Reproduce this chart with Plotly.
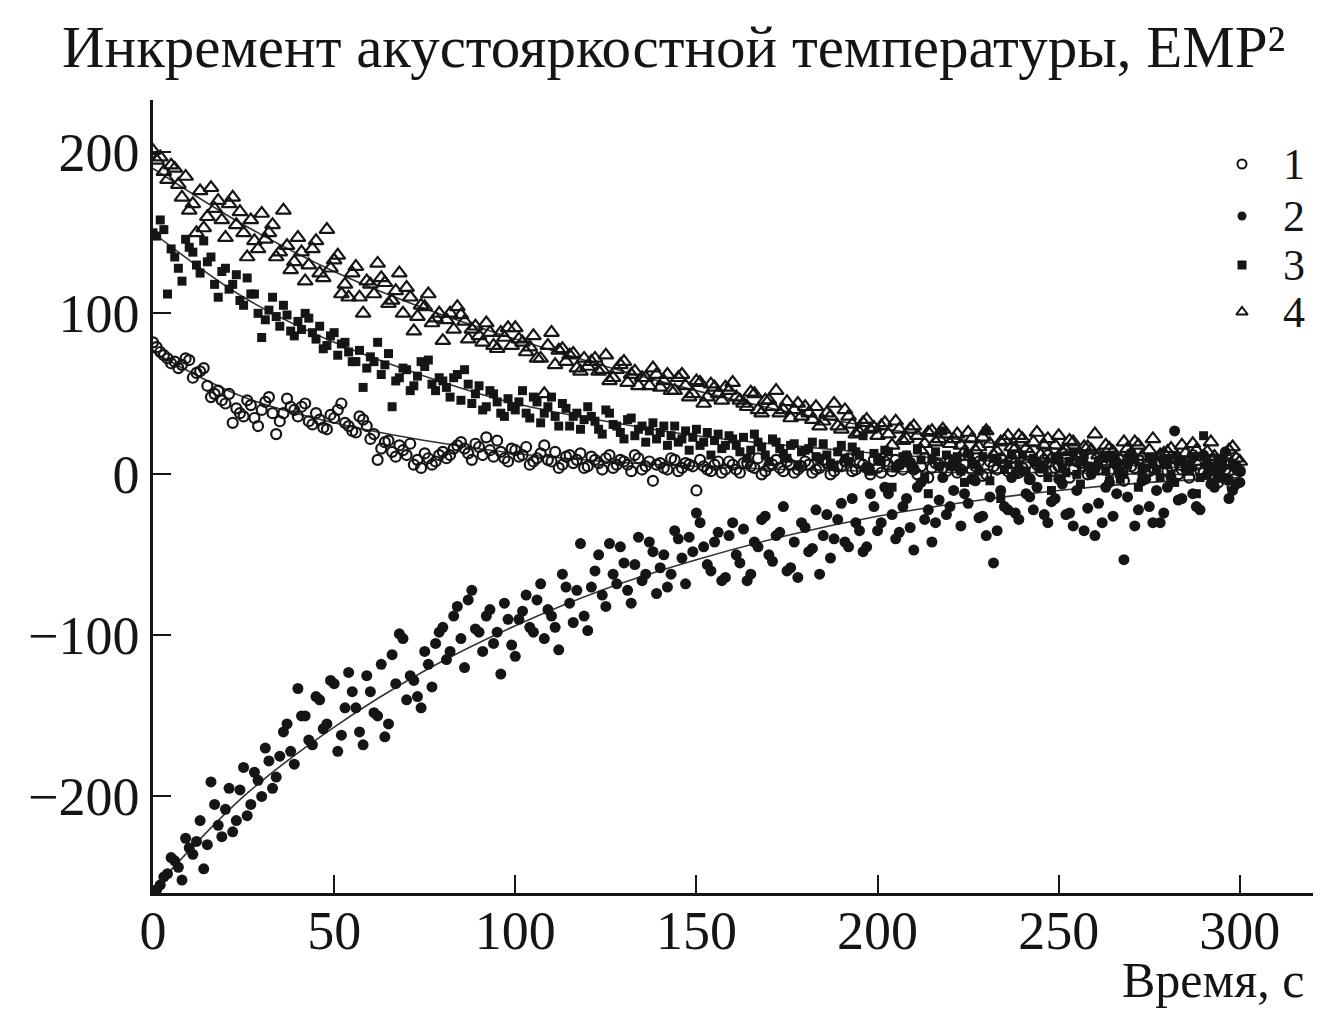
import plotly.graph_objects as go

# ---------------- data ----------------
SERIES_NAMES = ["1", "2", "3", "4"]

# samples at even seconds: t = 0, 2, ..., 300
S1_EVEN = [82, 76, 72, 70, 68, 71, 63, 66, 48, 52,
           44, 32, 38, 46, 35, 40, 48, 25, 38, 42,
           36, 44, 31, 34, 28, 35, 44, 30, 26, 34,
           22, 9, 20, 14, 18, 12, 6, 4, 10, 8,
           14, 12, 18, 16, 9, 17, 23, 11, 14, 8,
           15, 12, 6, 10, 18, 8, 4, 11, 7, 13,
           5, 9, 3, 12, 6, 8, 2, 10, 5, -4,
           7, 3, 9, 4, 6, -10, 5, 2, 8, 3,
           6, 1, 7, 4, 0, 5, 9, 2, 6, 3,
           8, 1, 4, 7, 2, 5, 10, 3, 6, 0,
           4, 8, 2, 6, 11, 3, 5, -2, 7, 4,
           9, 1, 6, 3, 8, 0, 5, 10, 2, 7,
           4, -3, 6, 9, 2, 5, 11, 3, 7, 0,
           4, 8, 2, 6, -4, 5, 9, 1, 4, 7,
           2, 10, 3, -2, 6, 1, 8, -5, 3, -8,
           2]
# samples at odd seconds: t = 1, 3, ..., 299
S1_ODD = [79, 74, 69, 66, 72, 60, 64, 55, 50, 46,
          50, 41, 36, 43, 30, 45, 38, 33, 47, 40,
          42, 33, 38, 29, 37, 40, 32, 27, 36, 30,
          25, 16, 21, 11, 15, 19, 9, 13, 6, 12,
          10, 16, 20, 13, 19, 12, 15, 21, 10, 16,
          11, 17, 8, 13, 9, 14, 6, 12, 9, 4,
          11, 7, 10, 4, 9, 6, 12, 3, 8, 6,
          4, 10, 2, 7, 5, 9, 3, 6, 1, 8,
          3, 7, 5, 10, 2, 6, 4, 8, 1, 5,
          6, 3, 9, 0, 5, 8, 2, 7, 4, 9,
          1, 6, 9, 3, 7, 0, 10, 4, 6, 2,
          7, 3, 12, 5, -1, 8, 3, 6, 10, 1,
          6, 9, 2, 12, 4, 7, -2, 8, 5, 10,
          3, 6, 11, 0, 8, 4, 10, 2, 6, 9,
          5, 0, 8, 12, 3, 6, -3, 9, 2, 4]

S2_EVEN = [-262, -255, -248, -240, -252, -232, -228, -245, -191, -218,
           -208, -222, -196, -212, -185, -200, -178, -188, -160, -172,
           -133, -150, -168, -140, -155, -130, -162, -123, -145, -168,
           -135, -150, -163, -112, -99, -140, -128, -145, -118, -105,
           -95, -110, -82, -120, -72, -98, -88, -105, -124, -90,
           -113, -85, -95, -78, -102, -88, -109, -70, -92, -43,
           -97, -60, -75, -43, -68, -55, -80, -39, -62, -48,
           -58, -70, -35, -52, -39, -24, -45, -60, -36, -64,
           -30, -55, -66, -42, -28, -50, -38, -20, -58, -64,
           -33, -46, -62, -25, -40, -18, -45, -30, -48, -12,
           -35, -8, -25, -36, -15, -47, -5, -22, -30, -2,
           -20, 5, -12, -3, -27, -38, -55, -10, -22, -24,
           2, -14, -8, -25, -17, -3, -25, -32, 8, -21,
           -38, -30, -5, -12, -53, 10, -22, -3, -30, -30,
           -8, 27, -15, 3, -20, 12, -6, -2, 14, -10,
           -5]
S2_ODD = [-258, -250, -238, -244, -226, -236, -215, -230, -205, -225,
          -195, -215, -182, -205, -190, -170, -195, -175, -155, -180,
          -150, -165, -138, -158, -128, -172, -145, -135, -160, -125,
          -148, -118, -155, -130, -102, -125, -138, -110, -132, -98,
          -115, -88, -102, -78, -96, -110, -84, -98, -80, -106,
          -90, -75, -98, -68, -84, -95, -62, -80, -72, -88,
          -70, -50, -82, -62, -45, -72, -56, -66, -42, -74,
          -50, -62, -40, -68, -48, -30, -56, -42, -66, -38,
          -50, -34, -62, -45, -26, -54, -36, -60, -42, -30,
          -48, -22, -38, -52, -28, -42, -15, -35, -45, -20,
          -30, -12, -40, -20, -33, -8, -28, -42, -16, -25,
          -10, -32, -18, -4, -26, -14, -35, -20, -2, -28,
          -12, -22, 4, -30, -15, -6, -24, -10, -35, 0,
          -18, -8, -26, 2, -14, -32, -4, -20, -10, -24,
          -2, -16, 6, -12, -22, 0, -8, 4, -15, -6]

S3_EVEN = [150, 158, 112, 135, 120, 141, 130, 145, 135, 110,
           128, 118, 108, 122, 112, 85, 102, 98, 105, 89,
           95, 100, 88, 92, 80, 88, 81, 76, 70, 54,
           73, 82, 68, 42, 60, 65, 55, 70, 71, 52,
           58, 48, 62, 65, 44, 55, 42, 50, 38, 47,
           40, 52, 35, 45, 38, 48, 30, 41, 36, 28,
           42, 33, 25, 38, 30, 22, 35, 28, 20, 32,
           26, 18, 30, 22, 15, 28, 20, 12, 25, 18,
           22, 14, 10, 25, 17, 8, 20, 13, 18, 6,
           15, 20, 10, 12, 5, 18, 8, 14, 24, 2,
           10, 15, -8, 6, 12, 3, 9, -12, 14, 27,
           5, 11, -5, 8, 2, 27, 10, -15, 6, 0,
           12, -3, 7, 4, -10, 9, 1, 14, -6, 5,
           3, 10, -4, 6, 0, 13, -8, 4, 8, -2,
           6, -5, 9, 2, -12, 24, 4, 10, -3, 7,
           2]
S3_ODD = [148, 152, 140, 128, 146, 138, 125, 132, 118, 126,
          115, 124, 105, 112, 100, 96, 110, 92, 99, 86,
          90, 97, 84, 78, 86, 74, 82, 70, 77, 66,
          70, 62, 75, 58, 66, 52, 61, 67, 56, 60,
          54, 60, 46, 56, 50, 40, 52, 45, 36, 42,
          45, 38, 48, 32, 42, 36, 44, 30, 38, 34,
          36, 28, 40, 31, 26, 34, 24, 30, 27, 22,
          30, 24, 20, 27, 23, 18, 26, 21, 16, 24,
          18, 23, 15, 20, 12, 22, 16, 10, 19, 14,
          16, 11, 19, 7, 14, 10, 17, 12, 4, 13,
          8, 14, 4, 11, 7, 16, -2, 10, 5, 12,
          9, 2, 13, 6, 11, -4, 8, 3, 12, 6,
          2, 10, 6, -2, 11, 4, 8, 0, 12, 5,
          8, 2, 11, -3, 6, 9, 1, 10, 3, 7,
          0, 8, 4, 11, -2, 6, 2, 9, -4, 5]

S4_EVEN = [201, 197, 183, 190, 172, 164, 150, 153, 178, 170,
           147, 172, 163, 135, 145, 162, 150, 135, 164, 127,
           147, 120, 140, 125, 152, 133, 112, 110, 129, 100,
           118, 131, 119, 108, 125, 116, 89, 105, 112, 97,
           83, 100, 104, 95, 90, 86, 94, 80, 88, 91,
           91, 82, 79, 72, 50, 88, 77, 70, 75, 64,
           67, 72, 65, 58, 65, 70, 62, 55, 60, 66,
           54, 62, 52, 62, 48, 58, 44, 56, 50, 54,
           57, 46, 42, 50, 38, 46, 52, 40, 35, 44,
           42, 34, 30, 38, 44, 28, 36, 25, 32, 28,
           24, 32, 18, 28, 22, 30, 15, 26, 20, 28,
           19, 25, 14, 22, 17, 27, 12, 20, 24, 16,
           22, 13, 26, 18, 10, 24, 15, 20, 12, 17,
           25, 10, 16, 8, 20, 13, 18, 6, 22, 12,
           14, 9, 18, 5, 15, 11, 20, 7, 12, 17,
           8]
S4_ODD = [195, 188, 192, 180, 185, 168, 176, 160, 165, 158,
          168, 155, 150, 158, 140, 146, 155, 138, 142, 132,
          138, 130, 145, 122, 128, 136, 118, 125, 110, 120,
          112, 122, 106, 114, 100, 110, 98, 104, 94, 100,
          96, 90, 99, 84, 92, 82, 88, 78, 85, 80,
          84, 76, 86, 72, 80, 68, 78, 74, 66, 72,
          70, 64, 74, 60, 68, 57, 64, 60, 55, 62,
          58, 52, 60, 55, 50, 57, 48, 54, 46, 52,
          48, 44, 51, 40, 46, 42, 38, 45, 40, 36,
          38, 42, 33, 36, 30, 40, 31, 26, 34, 29,
          30, 25, 33, 21, 28, 24, 19, 27, 22, 25,
          22, 18, 26, 15, 23, 19, 14, 21, 17, 24,
          16, 20, 12, 22, 18, 14, 21, 11, 17, 15,
          12, 18, 14, 9, 16, 20, 11, 15, 7, 13,
          16, 10, 13, 19, 8, 14, 11, 6, 15, 10]

# fitted curves, read at 25 s intervals
FIT_T = [0, 25, 50, 75, 100, 125, 150, 175, 200, 225, 250, 275, 300]
FIT1 = [76, 48, 32, 21, 13, 8, 5, 3, 2, 1, 1, 0, 0]
FIT2 = [-258, -200, -157, -122, -94, -71, -53, -38, -26, -17, -10, -5, -2]
FIT3 = [150, 110, 82, 61, 44, 33, 24, 18, 13, 9, 7, 5, 3]
FIT4 = [190, 155, 126, 103, 84, 67, 52, 39, 29, 21, 16, 11, 8]

X_TICKS = [0, 50, 100, 150, 200, 250, 300]
Y_TICKS = [-200, -100, 0, 100, 200]
Y_TICK_TEXT = ["\u2212200", "\u2212100", "0", "100", "200"]

TITLE = "Инкремент акустояркостной температуры, ЕМР²"
X_TITLE = "Время, с"

# ---------------- figure ----------------
FONT = "Liberation Serif, Times New Roman, serif"
INK = "#151515"
BODY = 8  # the html page adds an 8 px margin round the figure

# wanted geometry in window pixels
PLOT_L, PLOT_R, PLOT_T, PLOT_B = 153, 1321, 100, 893
W, H = 1321 - BODY, 1011 - BODY


def px_x(px):
    return (px - PLOT_L) / (PLOT_R - PLOT_L)


def px_y(py):
    return (PLOT_B - py) / (PLOT_B - PLOT_T)


def even_times(vals):
    return [2 * i for i in range(len(vals))]


def odd_times(vals):
    return [2 * i + 1 for i in range(len(vals))]


fig = go.Figure()

# fitted lines first (under the markers)
for fit in (FIT1, FIT2, FIT3, FIT4):
    fig.add_trace(go.Scatter(x=FIT_T, y=fit, mode="lines",
                             line=dict(color="#333333", width=1.6, shape="spline", smoothing=1.0),
                             showlegend=False, hoverinfo="skip"))

marker_styles = [
    dict(symbol="circle-open", size=10, color=INK, line=dict(width=2.2, color=INK)),
    dict(symbol="circle", size=11, color=INK, line=dict(width=0)),
    dict(symbol="square", size=9, color=INK, line=dict(width=0)),
    dict(symbol="triangle-up-open", size=13, color=INK, line=dict(width=2.2, color=INK)),
]
legend_marker_styles = [
    dict(symbol="circle-open", size=9, color=INK, line=dict(width=2, color=INK)),
    dict(symbol="circle", size=9, color=INK, line=dict(width=0)),
    dict(symbol="square", size=9, color=INK, line=dict(width=0)),
    dict(symbol="triangle-up-open", size=10, color=INK, line=dict(width=2, color=INK)),
]

series = [(S1_EVEN, S1_ODD), (S2_EVEN, S2_ODD), (S3_EVEN, S3_ODD), (S4_EVEN, S4_ODD)]
for name, (ev, od), mk in zip(SERIES_NAMES, series, marker_styles):
    fig.add_trace(go.Scatter(x=even_times(ev) + odd_times(od), y=ev + od, mode="markers",
                             name=name, marker=mk, showlegend=False))

# hand-placed legend on an overlay axis spanning the plot area (0..1)
LEG_MARK_X = px_x(1242)
LEG_TEXT_X = px_x(1281)
LEG_ROWS_PX = [164, 216, 265, 312]
annotations = []
for name, mk, py in zip(SERIES_NAMES, legend_marker_styles, LEG_ROWS_PX):
    fig.add_trace(go.Scatter(x=[LEG_MARK_X], y=[px_y(py)], mode="markers", marker=mk,
                             xaxis="x2", yaxis="y2", showlegend=False, hoverinfo="skip"))
    annotations.append(dict(text=name, xref="paper", yref="paper", x=LEG_TEXT_X, y=px_y(py),
                            xanchor="left", yanchor="middle", showarrow=False,
                            font=dict(size=44, family=FONT, color=INK)))

annotations.append(dict(text=TITLE, xref="paper", yref="paper", x=px_x(60), y=px_y(12),
                        xanchor="left", yanchor="top", showarrow=False,
                        font=dict(size=59, family=FONT, color=INK)))
annotations.append(dict(text=X_TITLE, xref="paper", yref="paper", x=px_x(1306), y=px_y(950),
                        xanchor="right", yanchor="top", showarrow=False,
                        font=dict(size=50, family=FONT, color=INK)))

fig.update_layout(
    width=W, height=H,
    paper_bgcolor="white", plot_bgcolor="white",
    margin=dict(l=PLOT_L - BODY, r=W - (PLOT_R - BODY), t=PLOT_T - BODY, b=H - (PLOT_B - BODY),
                pad=0, autoexpand=False),
    font=dict(family=FONT, size=54, color=INK),
    showlegend=False,
    annotations=annotations,
    xaxis2=dict(overlaying="x", range=[0, 1], visible=False, fixedrange=True),
    yaxis2=dict(overlaying="y", range=[0, 1], visible=False, fixedrange=True),
    xaxis=dict(range=[0, 322.4], tickvals=X_TICKS, ticks="inside", ticklen=18,
               tickwidth=2, tickcolor=INK, showline=True, linewidth=2.5, linecolor=INK,
               showgrid=False, zeroline=False, automargin=False, ticklabelstandoff=-12,
               tickfont=dict(size=54, family=FONT, color=INK)),
    yaxis=dict(range=[-260, 232.5], tickvals=Y_TICKS, ticktext=Y_TICK_TEXT, ticks="inside",
               ticklen=18, tickwidth=2, tickcolor=INK, showline=True, linewidth=2.5,
               linecolor=INK, showgrid=False, zeroline=False, automargin=False,
               tickfont=dict(size=54, family=FONT, color=INK)),
)

fig.write_html("out.html")
